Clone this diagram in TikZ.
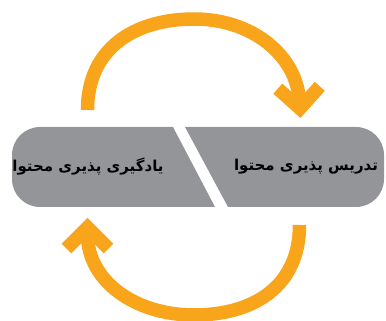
\documentclass[tikz,border=0pt]{standalone}
\usepackage{fontspec}
\newfontfamily\arabicfont[Script=Arabic]{DejaVu Sans}
\TeXXeTstate=1
\usetikzlibrary{arrows.meta}
\definecolor{loopOrange}{HTML}{F9A51C}
\definecolor{bandGrey}{HTML}{939598}

\begin{document}
\begin{tikzpicture}[x=1pt, y=1pt,
    band/.style={fill=bandGrey},
    cyclearrow/.style={draw=loopOrange, line width=13.5pt, -{Straight Barb[length=21pt, width=42pt]}},
    phrase/.style={font=\arabicfont\bfseries\fontsize{15}{18}\selectfont, text=black, inner sep=0pt}]
    \useasboundingbox (0,0) rectangle (386,321);

    % Band, left half
    \fill[band] (173,194) -- (40,194) arc[start angle=90, end angle=180, radius=28]
        -- (12,142) arc[start angle=180, end angle=270, radius=28] -- (215,114) -- cycle;
    % Band, right half
    \fill[band] (185,194) -- (356,194) arc[start angle=90, end angle=0, radius=28]
        -- (384,142) arc[start angle=0, end angle=-90, radius=28] -- (228,114) -- cycle;

    \node[phrase] (learn) at (88,154) {\beginR یادگیری پذیری محتوا\endR};
    \node[phrase] (teach) at (306,154) {\beginR تدریس پذیری محتوا\endR};

    % Loops
    \coordinate (topstart) at (87.5,211);
    \coordinate (topmid) at (194,302);
    \coordinate (topend) at (300.5,203);
    \coordinate (botstart) at (299.5,96);
    \coordinate (botmid) at (194,6);
    \coordinate (botend) at (87.5,103);
    \draw[cyclearrow] (topstart) .. controls +(0,62) and +(-59,0) .. (topmid)
        .. controls +(59,0) and +(-3.5,62) .. (topend);
    \draw[cyclearrow] (botstart) .. controls +(0,-62) and +(59,0) .. (botmid)
        .. controls +(-59,0) and +(0,-63) .. (botend);
\end{tikzpicture}
\end{document}
